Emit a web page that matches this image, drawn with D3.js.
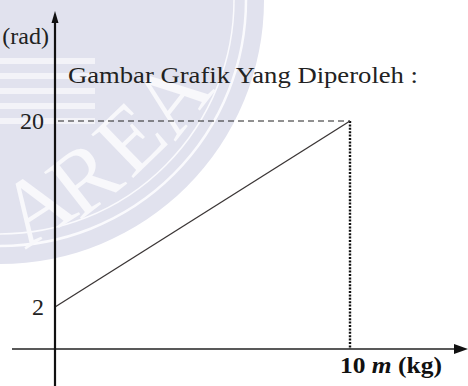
<!DOCTYPE html>
<html lang="en">
<head>
  <meta charset="UTF-8" />
  <title>Gambar Grafik Yang Diperoleh</title>
  <script src="https://cdn.jsdelivr.net/npm/d3@7"></script>
  <style>
    html, body { margin: 0; padding: 0; background: #fff; overflow: hidden; }
    svg { display: block; }
  </style>
</head>
<body>
  <script>
    // ----------------------------
    // Data
    // ----------------------------
    const massValues = [0, 10];      // m (kg)
    const thetaValues = [2, 20];     // θ (rad)
    const yTicks = [2, 20];
    const xTicks = [10];
    const titleText = "Gambar Grafik Yang Diperoleh :";
    const yLabel = "(rad)";
    const watermarkLetters = ["A", "R", "E", "A"];

    const width = 468, height = 386;
    const axisX = 55;    // vertical axis position
    const axisY = 349;   // horizontal axis position
    const serif = "'Liberation Serif', 'DejaVu Serif', serif";

    const svg = d3.select("body").append("svg")
      .attr("width", width)
      .attr("height", height);

    // ----------------------------
    // Faint seal watermark (top left)
    // ----------------------------
    const seal = svg.append("g");
    seal.append("circle")
      .attr("cx", 0).attr("cy", 0).attr("r", 264)
      .attr("fill", "#e1e2ee");
    seal.append("circle")
      .attr("cx", 0).attr("cy", 0).attr("r", 246)
      .attr("fill", "none").attr("stroke", "#fafafd").attr("stroke-width", 2.5);
    seal.append("circle")
      .attr("cx", 0).attr("cy", 0).attr("r", 234)
      .attr("fill", "none").attr("stroke", "#fafafd").attr("stroke-width", 1.5);
    // building-like bars
    d3.range(5).forEach(i => {
      seal.append("rect")
        .attr("x", 0).attr("y", 58 + i * 15)
        .attr("width", 95).attr("height", 6)
        .attr("fill", "#f3f3f8");
    });
    const letterPos = [[36, 206, -33], [84, 178, -38], [130, 138, -44], [171, 97, -52]];
    watermarkLetters.forEach((ch, i) => {
      const [lx, ly, rot] = letterPos[i];
      seal.append("text")
        .attr("transform", `translate(${lx},${ly}) rotate(${rot})`)
        .attr("text-anchor", "middle")
        .attr("dominant-baseline", "central")
        .attr("font-family", serif)
        .attr("font-size", 92)
        .attr("fill", "#f8f8fb")
        .text(ch);
    });

    // ----------------------------
    // Scales
    // ----------------------------
    const x = d3.scaleLinear().domain([0, 10]).range([axisX, 350]);
    const y = d3.scaleLinear().domain([2, 20]).range([307, 121]);

    // ----------------------------
    // Guides to the end point
    // ----------------------------
    svg.append("line")
      .attr("x1", axisX + 3).attr("x2", x(10))
      .attr("y1", y(20)).attr("y2", y(20))
      .attr("stroke", "#222").attr("stroke-width", 1)
      .attr("stroke-dasharray", "6,4");
    svg.append("line")
      .attr("x1", x(10)).attr("x2", x(10))
      .attr("y1", y(20)).attr("y2", axisY)
      .attr("stroke", "#111").attr("stroke-width", 2.4)
      .attr("stroke-dasharray", "2,1.4");

    // ----------------------------
    // Data line
    // ----------------------------
    const pts = massValues.map((m, i) => [x(m), y(thetaValues[i])]);
    svg.append("path")
      .attr("d", d3.line()(pts))
      .attr("fill", "none")
      .attr("stroke", "#3a3535")
      .attr("stroke-width", 1.3);

    // ----------------------------
    // Axes
    // ----------------------------
    svg.append("line")
      .attr("x1", 12).attr("x2", width - 10)
      .attr("y1", axisY).attr("y2", axisY)
      .attr("stroke", "#222").attr("stroke-width", 1.5);
    svg.append("path")
      .attr("d", `M${width},${axisY} L${width - 14},${axisY - 5} L${width - 14},${axisY + 5} Z`)
      .attr("fill", "#111");

    svg.append("line")
      .attr("x1", axisX).attr("x2", axisX)
      .attr("y1", 20).attr("y2", height)
      .attr("stroke", "#111").attr("stroke-width", 2.2);
    svg.append("path")
      .attr("d", `M${axisX},11 L${axisX - 3.5},23 L${axisX + 3.5},23 Z`)
      .attr("fill", "#111");

    // tick labels
    svg.selectAll("text.ytick")
      .data(yTicks)
      .join("text")
      .attr("class", "ytick")
      .attr("x", axisX - 11)
      .attr("y", d => y(d) + 8)
      .attr("text-anchor", "end")
      .attr("font-family", serif)
      .attr("font-size", 24)
      .attr("fill", "#222")
      .text(d => d);

    const xt = svg.selectAll("text.xtick")
      .data(xTicks)
      .join("text")
      .attr("class", "xtick")
      .attr("x", d => x(d) - 10)
      .attr("y", 373)
      .attr("font-family", serif)
      .attr("font-size", 23)
      .attr("font-weight", "bold")
      .attr("fill", "#111")
      .attr("textLength", 102)
      .attr("lengthAdjust", "spacingAndGlyphs");
    xt.append("tspan").text(d => d + " ");
    xt.append("tspan").attr("font-style", "italic").text("m");
    xt.append("tspan").text(" (kg)");

    // axis label and title
    svg.append("text")
      .attr("x", 49).attr("y", 44)
      .attr("text-anchor", "end")
      .attr("font-family", serif)
      .attr("font-size", 24)
      .attr("fill", "#222")
      .text(yLabel);

    svg.append("text")
      .attr("x", 68).attr("y", 83)
      .attr("font-family", serif)
      .attr("font-size", 24)
      .attr("fill", "#222")
      .attr("textLength", 350)
      .attr("lengthAdjust", "spacingAndGlyphs")
      .text(titleText);
  </script>
</body>
</html>
